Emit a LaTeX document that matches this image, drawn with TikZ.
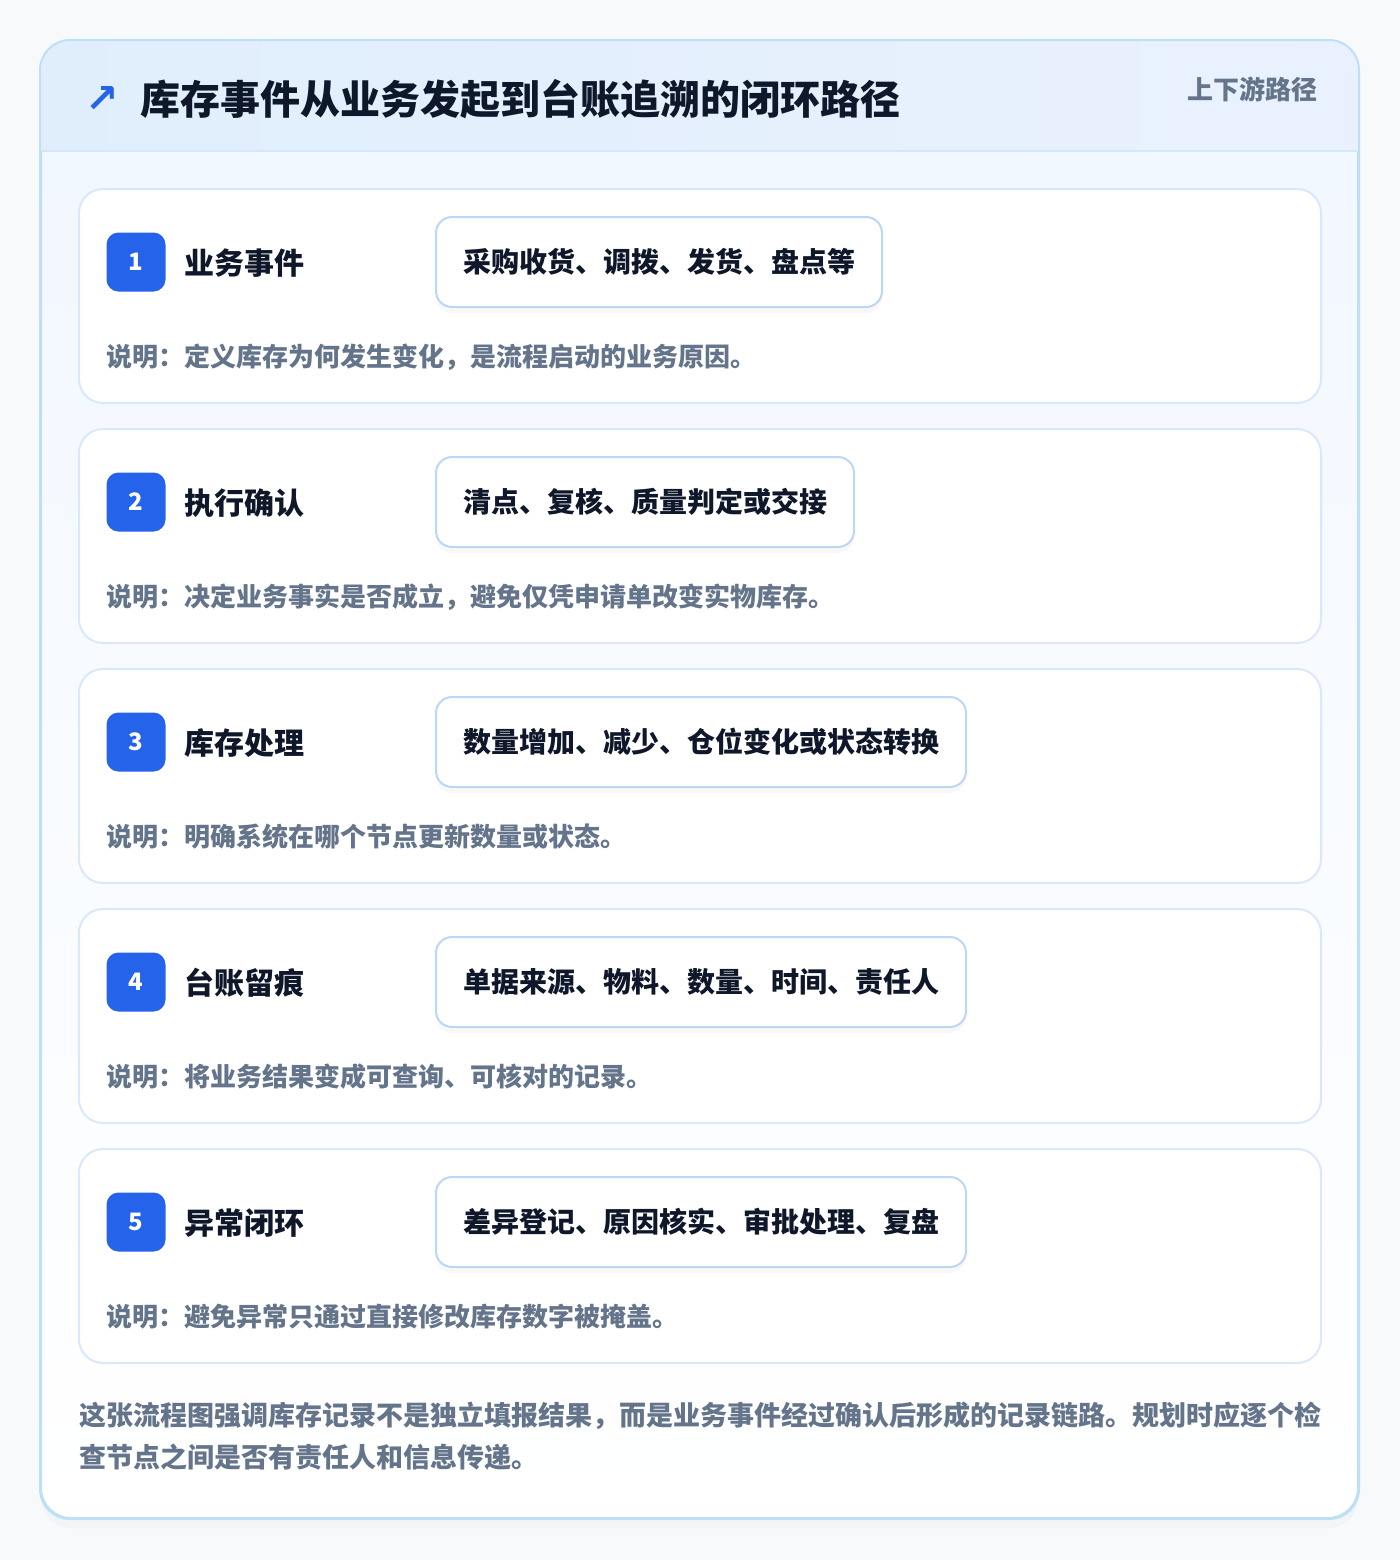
\documentclass[tikz,border=0pt]{standalone}
\usepackage{fontspec}
\setmainfont{Noto Sans CJK SC}
\newfontfamily\symfont{DejaVu Sans}
\usepackage{xcolor}
\usetikzlibrary{positioning,shadows}

\definecolor{pagebg}{HTML}{F8F9FB}
\definecolor{frameline}{HTML}{BEE0F6}
\definecolor{headleft}{HTML}{E0EEFC}
\definecolor{headright}{HTML}{EAF1FE}
\definecolor{headrule}{HTML}{D5E7FA}
\definecolor{bodytop}{HTML}{F1F7FF}
\definecolor{cardline}{HTML}{D9E8FA}
\definecolor{tagline}{HTML}{BCD6F6}
\definecolor{stepblue}{HTML}{2563EB}
\definecolor{ink}{HTML}{0F172A}
\definecolor{slate}{HTML}{64748B}

\begin{document}
\begin{tikzpicture}[x=0.5pt, y=-0.5pt,
    card/.style={draw=cardline, line width=1pt, fill=white, rounded corners=12pt,
        minimum width=621pt, minimum height=107pt, inner sep=0pt},
    badge/.style={fill=stepblue, rounded corners=6pt, minimum size=29.5pt, inner sep=0pt,
        text=white, font=\bfseries\fontsize{12}{12}\selectfont},
    steptitle/.style={anchor=west, inner sep=0pt, text=ink, font=\bfseries\fontsize{15}{15}\selectfont},
    tag/.style={anchor=west, draw=tagline, line width=1pt, fill=white, rounded corners=8pt,
        minimum height=45pt, inner xsep=13.5pt, text=ink, font=\bfseries\fontsize{14}{14}\selectfont,
        drop shadow={shadow xshift=0pt, shadow yshift=-3pt, opacity=0.05}},
    note/.style={anchor=west, inner sep=0pt, text=slate, font=\bfseries\fontsize{13}{13}\selectfont}]

    % Page and frame
    \fill[pagebg] (0,0) rectangle (1400,1560);
    \useasboundingbox (0,0) rectangle (1400,1560);
    \node[draw=frameline, line width=1pt, rounded corners=15pt, top color=bodytop, bottom color=white,
        minimum width=658.5pt, minimum height=738.5pt, inner sep=0pt,
        drop shadow={shadow xshift=0pt, shadow yshift=-5pt, opacity=0.04}] (frame) at (699.5,779.5) {};
    \begin{scope}
        \clip[rounded corners=15pt] (frame.north west) rectangle (frame.south east);
        \shade[left color=headleft, right color=headright] (frame.north west) rectangle (1358,151);
    \end{scope}
    \draw[headrule, line width=1pt] (41,151) -- (1358,151);
    \draw[frameline, line width=1pt, rounded corners=15pt] (frame.north west) rectangle (frame.south east);

    % Header
    \node[text=stepblue, font=\symfont\bfseries\fontsize{20}{20}\selectfont, inner sep=0pt] (icon) at (102,99) {↗};
    \node[anchor=west, inner sep=0pt, text=ink, font=\bfseries\fontsize{20}{20}\selectfont] (title) at (140,99)
        {库存事件从业务发起到台账追溯的闭环路径};
    \node[anchor=east, inner sep=0pt, text=slate, font=\bfseries\fontsize{13}{13}\selectfont] (scope) at (1318,89)
        {上下游路径};

    % Step 1
    \node[card] (c1) at (700,296) {};
    \node[badge] (n1) at (136,262) {1};
    \node[steptitle] (h1) at (184,263) {业务事件};
    \node[tag] (t1) at (435,262) {采购收货、调拨、发货、盘点等};
    \node[note] (d1) at (106,357) {说明：定义库存为何发生变化，是流程启动的业务原因。};

    % Step 2
    \node[card] (c2) at (700,536) {};
    \node[badge] (n2) at (136,502) {2};
    \node[steptitle] (h2) at (184,503) {执行确认};
    \node[tag] (t2) at (435,502) {清点、复核、质量判定或交接};
    \node[note] (d2) at (106,597) {说明：决定业务事实是否成立，避免仅凭申请单改变实物库存。};

    % Step 3
    \node[card] (c3) at (700,776) {};
    \node[badge] (n3) at (136,742) {3};
    \node[steptitle] (h3) at (184,743) {库存处理};
    \node[tag] (t3) at (435,742) {数量增加、减少、仓位变化或状态转换};
    \node[note] (d3) at (106,837) {说明：明确系统在哪个节点更新数量或状态。};

    % Step 4
    \node[card] (c4) at (700,1016) {};
    \node[badge] (n4) at (136,982) {4};
    \node[steptitle] (h4) at (184,983) {台账留痕};
    \node[tag] (t4) at (435,982) {单据来源、物料、数量、时间、责任人};
    \node[note] (d4) at (106,1077) {说明：将业务结果变成可查询、可核对的记录。};

    % Step 5
    \node[card] (c5) at (700,1256) {};
    \node[badge] (n5) at (136,1222) {5};
    \node[steptitle] (h5) at (184,1223) {异常闭环};
    \node[tag] (t5) at (435,1222) {差异登记、原因核实、审批处理、复盘};
    \node[note] (d5) at (106,1317) {说明：避免异常只通过直接修改库存数字被掩盖。};

    % Footer
    \node[anchor=west, inner sep=0pt, align=left, text=slate, font=\bfseries\fontsize{13.5}{21}\selectfont] (summary) at (79,1436)
        {这张流程图强调库存记录不是独立填报结果，而是业务事件经过确认后形成的记录链路。规划时应逐个检\\查节点之间是否有责任人和信息传递。};
\end{tikzpicture}
\end{document}
